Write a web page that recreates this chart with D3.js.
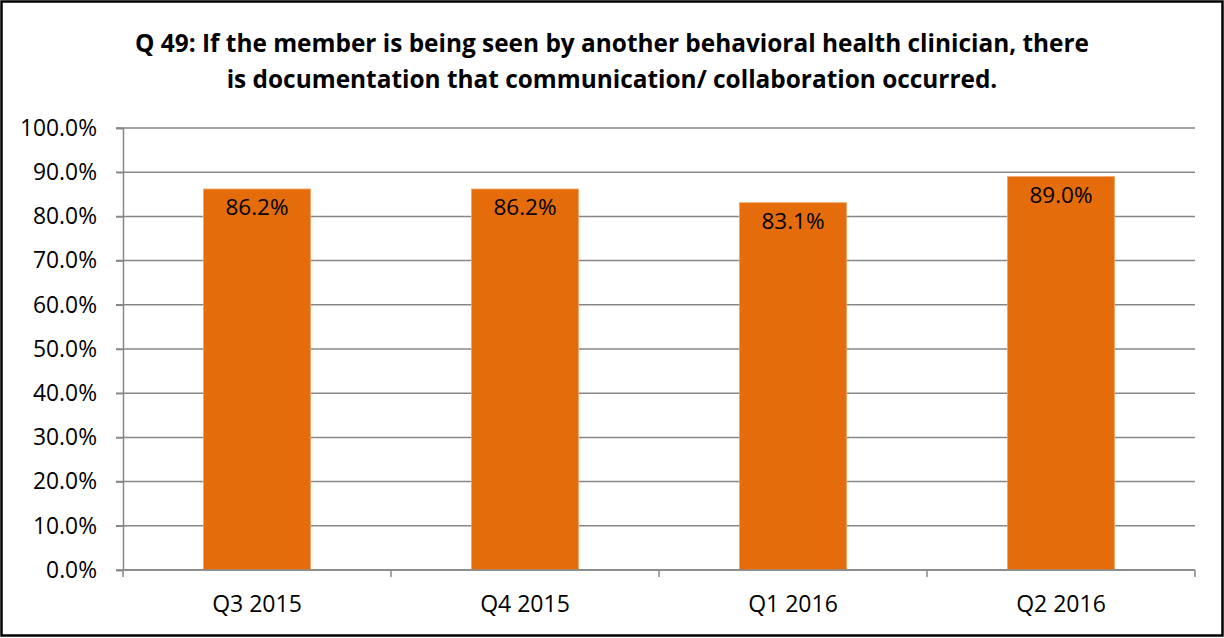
<!DOCTYPE html>
<html>
<head>
<meta charset="utf-8">
<script src="https://cdn.jsdelivr.net/npm/d3@7"></script>
<style>
  html, body { margin: 0; padding: 0; background: #fff; }
  svg { display: block; }
  text { font-family: "Open Sans", "Liberation Sans", sans-serif; fill: #000; }
</style>
</head>
<body>
<svg id="chart" width="1224" height="638"></svg>
<script>
const categories = ["Q3 2015", "Q4 2015", "Q1 2016", "Q2 2016"];
const values = [86.2, 86.2, 83.1, 89.0];
const yTicks = [0, 10, 20, 30, 40, 50, 60, 70, 80, 90, 100];
const titleLines = [
  "Q 49: If the member is being seen by another behavioral health clinician, there",
  "is documentation that communication/ collaboration occurred."
];

const W = 1224, H = 638;
const margin = { left: 123, right: 29, top: 128, bottom: 68 };
const svg = d3.select("#chart");

svg.append("rect").attr("x", 1.5).attr("y", 1.5).attr("width", W - 3).attr("height", H - 4)
  .attr("fill", "#fff").attr("stroke", "#000").attr("stroke-width", 2.5);

const x = d3.scaleBand().domain(categories)
  .range([margin.left, W - margin.right])
  .paddingInner(0.6).paddingOuter(0.3);
const y = d3.scaleLinear().domain([0, 100]).range([H - margin.bottom, margin.top]);

// gridlines
const grid = svg.append("g");
grid.selectAll("line").data(yTicks).join("line")
  .attr("x1", margin.left - 7).attr("x2", W - margin.right)
  .attr("y1", d => y(d)).attr("y2", d => y(d))
  .attr("stroke", "#878787").attr("stroke-width", 1.5);

// y axis
const yAxis = d3.axisLeft(y).tickValues(yTicks).tickFormat(d => d.toFixed(1) + "%").tickSize(7).tickPadding(19);
const gy = svg.append("g").attr("transform", `translate(${margin.left},0)`).call(yAxis);
gy.select(".domain").attr("stroke", "#878787").attr("stroke-width", 1.5);
gy.selectAll(".tick line").attr("stroke", "#878787").attr("stroke-width", 1.5);
gy.selectAll("text").attr("font-size", 22.8).attr("font-family", "Open Sans").attr("fill", "#000");

// bars
svg.append("g").selectAll("rect").data(values).join("rect")
  .attr("x", (d, i) => x(categories[i]))
  .attr("width", x.bandwidth())
  .attr("y", d => y(d))
  .attr("height", d => y(0) - y(d))
  .attr("fill", "#E46C0A")
  .attr("stroke", "#F3A56A").attr("stroke-width", 0.8);

// data labels
svg.append("g").selectAll("text").data(values).join("text")
  .attr("x", (d, i) => x(categories[i]) + x.bandwidth() / 2)
  .attr("y", d => y(d) + 26)
  .attr("text-anchor", "middle")
  .attr("font-size", 22.5)
  .text(d => d.toFixed(1) + "%");

// x axis
const xBounds = d3.range(categories.length + 1).map(i => margin.left + i * (W - margin.left - margin.right) / categories.length);
const gx = svg.append("g");
gx.append("line").attr("x1", margin.left).attr("x2", W - margin.right)
  .attr("y1", y(0)).attr("y2", y(0)).attr("stroke", "#878787").attr("stroke-width", 1.5);
gx.selectAll("line.tk").data(xBounds).join("line").attr("class", "tk")
  .attr("x1", d => d).attr("x2", d => d)
  .attr("y1", y(0)).attr("y2", y(0) + 7)
  .attr("stroke", "#878787").attr("stroke-width", 1.5);
gx.selectAll("text").data(categories).join("text")
  .attr("x", d => x(d) + x.bandwidth() / 2)
  .attr("y", y(0) + 42)
  .attr("text-anchor", "middle")
  .attr("font-size", 23)
  .text(d => d);

// title
svg.append("g").selectAll("text").data(titleLines).join("text")
  .attr("x", 612).attr("y", (d, i) => 52 + i * 36)
  .attr("text-anchor", "middle")
  .attr("font-size", 24.4).attr("font-weight", "bold")
  .text(d => d);
</script>
</body>
</html>
